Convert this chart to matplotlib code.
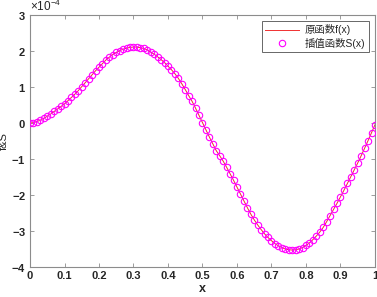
import numpy as np
import matplotlib
matplotlib.use('Agg')
import matplotlib.pyplot as plt
from matplotlib.ticker import ScalarFormatter

plt.rcParams['font.family'] = ['Liberation Sans', 'Noto Sans CJK SC', 'DejaVu Sans']
plt.rcParams['axes.unicode_minus'] = False
plt.rcParams['mathtext.default'] = 'regular'

# sample points (x) and function values (units of 1e-4)
x = [i / 100 for i in range(101)]
f_vals = [
    0.00, 0.01, 0.04, 0.08, 0.13, 0.19, 0.25, 0.32, 0.39, 0.46,
    0.53, 0.62, 0.71, 0.80, 0.90, 1.01, 1.12, 1.23, 1.34, 1.45,
    1.55, 1.65, 1.75, 1.83, 1.90, 1.96, 2.01, 2.05, 2.08, 2.10,
    2.11, 2.11, 2.09, 2.07, 2.03, 1.97, 1.91, 1.84, 1.76, 1.68,
    1.58, 1.48, 1.37, 1.24, 1.09, 0.93, 0.76, 0.60, 0.41, 0.21,
    0.01, -0.19, -0.39, -0.58, -0.77, -0.91, -1.06, -1.23, -1.41, -1.59,
    -1.78, -1.97, -2.16, -2.35, -2.53, -2.69, -2.83, -2.96, -3.08, -3.18,
    -3.27, -3.35, -3.41, -3.46, -3.50, -3.52, -3.53, -3.52, -3.50, -3.46,
    -3.40, -3.33, -3.24, -3.14, -3.03, -2.90, -2.74, -2.57, -2.40, -2.23,
    -2.05, -1.87, -1.68, -1.49, -1.30, -1.11, -0.91, -0.70, -0.49, -0.27,
    -0.05,
]
scale = 1e-4
xticks = [0, 0.1, 0.2, 0.3, 0.4, 0.5, 0.6, 0.7, 0.8, 0.9, 1]
xticklabels = ['0', '0.1', '0.2', '0.3', '0.4', '0.5', '0.6', '0.7', '0.8', '0.9', '1']
yticks = [-4, -3, -2, -1, 0, 1, 2, 3]

fx = np.array(f_vals) * scale
sx = np.array(f_vals) * scale

fig = plt.figure(figsize=(3.77, 2.97), dpi=100)
ax = fig.add_axes([0.0796, 0.101, 0.915, 0.8485])

ax.plot(x, fx, color='#f03030', lw=0.7, label='原函数f(x)', zorder=2)
ax.plot(x, sx, 'o', mfc='none', mec='#ff00ff', ms=4.6, mew=0.8,
        label='插值函数S(x)', zorder=3)

ax.set_xlim(0, 1)
ax.set_ylim(-4 * scale, 3 * scale)
ax.set_xticks(xticks)
ax.set_xticklabels(xticklabels)
ax.set_yticks([v * scale for v in yticks])
fmt = ScalarFormatter(useMathText=True)
fmt.set_powerlimits((0, 0))
ax.yaxis.set_major_formatter(fmt)

for s in ax.spines.values():
    s.set_color('#8c8c8c')
    s.set_linewidth(0.8)
ax.tick_params(direction='in', length=3, width=0.6, color='#8c8c8c',
               top=True, right=True, labelsize=8, labelcolor='#262626', pad=3)
for lab in ax.get_xticklabels() + ax.get_yticklabels():
    lab.set_fontweight('bold')
ax.yaxis.get_offset_text().set_fontsize(8.5)
ax.yaxis.get_offset_text().set_color('#262626')

ax.set_xlabel('x', fontsize=9, fontweight='bold', color='#262626', labelpad=1)
ax.set_ylabel('f&S', fontsize=8, color='#262626')
ax.yaxis.set_label_coords(-0.06, 0.5)

leg = ax.legend(loc='upper right', fontsize=7.5, frameon=True, fancybox=False,
                borderpad=0.3, handlelength=3.2, handletextpad=0.6,
                labelspacing=0.25, borderaxespad=0.6)
leg.get_frame().set_edgecolor('#404040')
leg.get_frame().set_linewidth(0.7)
for t in leg.get_texts():
    t.set_color('#262626')

fig.savefig('out.png', dpi=100)
